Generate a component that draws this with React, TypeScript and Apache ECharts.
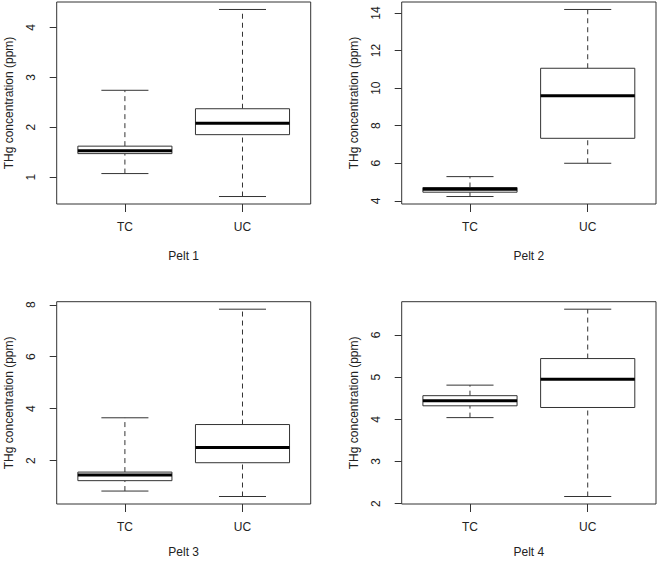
import React, { useEffect, useRef } from "react";
import * as echarts from "echarts";

// ---- data (min, Q1, median, Q3, max) ----
const categories = ["TC", "UC"];
const peltNames = ["Pelt 1", "Pelt 2", "Pelt 3", "Pelt 4"];

const pelt1TC = [1.07, 1.47, 1.53, 1.62, 2.74];
const pelt1UC = [0.61, 1.85, 2.08, 2.37, 4.36];
const pelt2TC = [4.23, 4.46, 4.62, 4.71, 5.29];
const pelt2UC = [6.0, 7.33, 9.59, 11.06, 14.19];
const pelt3TC = [0.83, 1.23, 1.45, 1.56, 3.65];
const pelt3UC = [0.62, 1.92, 2.51, 3.39, 7.83];
const pelt4TC = [4.04, 4.32, 4.44, 4.56, 4.81];
const pelt4UC = [2.17, 4.28, 4.95, 5.44, 6.61];

const yTicks1 = [1, 2, 3, 4];
const yTicks2 = [4, 6, 8, 10, 12, 14];
const yTicks3 = [2, 4, 6, 8];
const yTicks4 = [2, 3, 4, 5, 6];

const yTitle = "THg concentration (ppm)";

const panels = [
  { name: peltNames[0], tc: pelt1TC, uc: pelt1UC, ticks: yTicks1 },
  { name: peltNames[1], tc: pelt2TC, uc: pelt2UC, ticks: yTicks2 },
  { name: peltNames[2], tc: pelt3TC, uc: pelt3UC, ticks: yTicks3 },
  { name: peltNames[3], tc: pelt4TC, uc: pelt4UC, ticks: yTicks4 },
];

// grid rectangles (layout)
const grids = [
  { left: 56.7, top: 2, width: 254, height: 202 },
  { left: 401.7, top: 2, width: 254.3, height: 202 },
  { left: 56.7, top: 301.7, width: 254, height: 202.3 },
  { left: 401.7, top: 301.7, width: 254.3, height: 202.3 },
];
const xNameGaps = [46, 46, 42, 42];

const FONT = "'Liberation Sans', Arial, Helvetica, sans-serif";
const FS = 12;
const TEXT = "#222";
const LINE = "#333";

function rangeExt(a: number[], b: number[]) {
  const lo = Math.min(...a, ...b);
  const hi = Math.max(...a, ...b);
  const d = (hi - lo) * 0.04;
  return [lo - d, hi + d];
}

const renderBox = (params: any, api: any) => {
  const x = api.value(0);
  const mn = api.value(1);
  const q1 = api.value(2);
  const md = api.value(3);
  const q3 = api.value(4);
  const mx = api.value(5);
  const halfBox = api.size([0.4, 0])[0];
  const halfCap = api.size([0.2, 0])[0];
  const [cx, yMin] = api.coord([x, mn]);
  const yQ1 = api.coord([x, q1])[1];
  const yMd = api.coord([x, md])[1];
  const yQ3 = api.coord([x, q3])[1];
  const yMax = api.coord([x, mx])[1];
  const dash = { stroke: LINE, lineWidth: 1, lineDash: [5, 4], fill: null };
  const solid = { stroke: LINE, lineWidth: 1, fill: null };
  return {
    type: "group",
    children: [
      { type: "line", shape: { x1: cx, y1: yQ3, x2: cx, y2: yMax }, style: dash },
      { type: "line", shape: { x1: cx, y1: yMin, x2: cx, y2: yQ1 }, style: dash },
      { type: "line", shape: { x1: cx - halfCap, y1: yMax, x2: cx + halfCap, y2: yMax }, style: solid },
      { type: "line", shape: { x1: cx - halfCap, y1: yMin, x2: cx + halfCap, y2: yMin }, style: solid },
      {
        type: "rect",
        shape: { x: cx - halfBox, y: yQ3, width: halfBox * 2, height: yQ1 - yQ3 },
        style: { fill: "#fff", stroke: LINE, lineWidth: 1 },
      },
      {
        type: "line",
        shape: { x1: cx - halfBox, y1: yMd, x2: cx + halfBox, y2: yMd },
        style: { stroke: "#000", lineWidth: 3 },
      },
    ],
  };
};

export default function App() {
  const ref = useRef<HTMLDivElement>(null);
  useEffect(() => {
    if (!ref.current) return;
    const chart = echarts.init(ref.current, undefined, { renderer: "svg" });
    const option: any = {
      animation: false,
      backgroundColor: "#fff",
      textStyle: { fontFamily: FONT },
      grid: grids.map((g) => ({
        ...g,
        show: true,
        borderColor: LINE,
        borderWidth: 1,
        backgroundColor: "transparent",
        containLabel: false,
        outerBoundsMode: "none",
      })),
      xAxis: panels.map((p, i) => ({
        type: "value",
        gridIndex: i,
        min: 0.42,
        max: 2.58,
        name: p.name,
        nameLocation: "middle",
        nameGap: xNameGaps[i],
        nameTextStyle: { color: TEXT, fontSize: FS, fontFamily: FONT },
        axisLine: { show: false, onZero: false },
        splitLine: { show: false },
        axisTick: { show: true, customValues: [1, 2], length: 8, lineStyle: { color: LINE } },
        axisLabel: {
          customValues: [1, 2],
          formatter: (v: number) => categories[Math.round(v) - 1],
          color: TEXT,
          fontSize: FS,
          fontFamily: FONT,
          margin: 17,
        },
      })),
      yAxis: panels.map((p, i) => {
        const [lo, hi] = rangeExt(p.tc, p.uc);
        return {
          type: "value",
          gridIndex: i,
          min: lo,
          max: hi,
          name: yTitle,
          nameLocation: "middle",
          nameRotate: 90,
          nameGap: 42,
          nameTextStyle: { color: TEXT, fontSize: FS, fontFamily: FONT },
          axisLine: { show: false },
          splitLine: { show: false },
          axisTick: { show: true, customValues: p.ticks, length: 7, lineStyle: { color: LINE } },
          axisLabel: {
            customValues: p.ticks,
            formatter: (v: number) => String(v),
            rotate: 90,
            color: TEXT,
            fontSize: FS,
            fontFamily: FONT,
            margin: 20,
          },
        };
      }),
      series: panels.map((p, i) => ({
        type: "custom",
        xAxisIndex: i,
        yAxisIndex: i,
        renderItem: renderBox,
        encode: { x: 0, y: [1, 2, 3, 4, 5] },
        data: [
          [1, ...p.tc],
          [2, ...p.uc],
        ],
      })),
    };
    chart.setOption(option);
    return () => chart.dispose();
  }, []);
  return (
    <div
      ref={ref}
      style={{ position: "absolute", left: 0, top: 0, width: 658, height: 561, background: "#fff" }}
    />
  );
}
